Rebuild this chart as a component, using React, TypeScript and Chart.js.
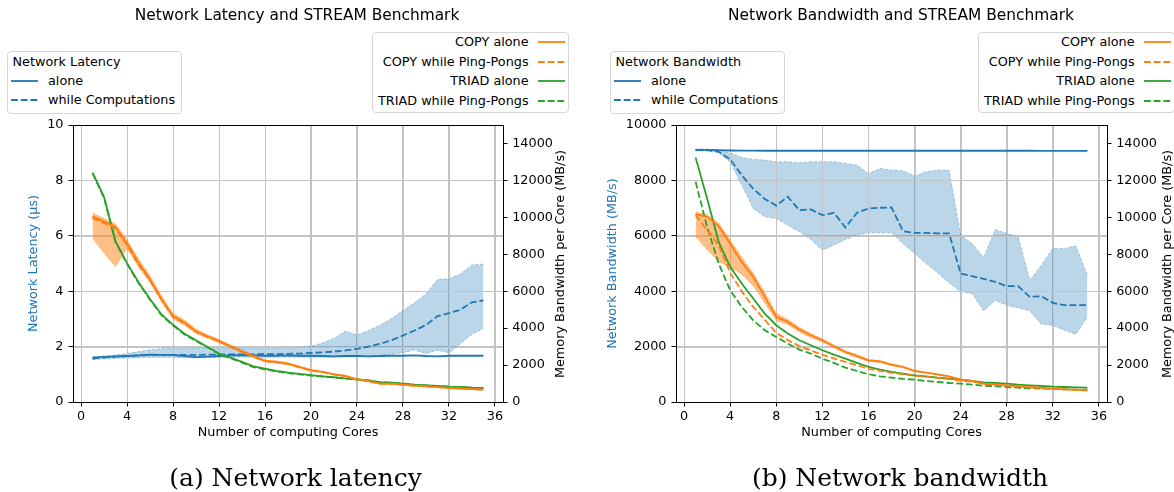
import React, { useEffect, useRef } from 'react';
import { Chart, registerables } from 'chart.js';

Chart.register(...registerables);

// ---------------- data ----------------
const cores = [1, 2, 3, 4, 5, 6, 7, 8, 9, 10, 11, 12, 13, 14, 15, 16, 17, 18, 19, 20, 21, 22, 23, 24, 25, 26, 27, 28, 29, 30, 31, 32, 33, 34, 35];
const xTicks = [0, 4, 8, 12, 16, 20, 24, 28, 32, 36];
const latencyTicks = [0, 2, 4, 6, 8, 10];
const bandwidthTicks = [0, 2000, 4000, 6000, 8000, 10000];
const memoryTicks = [0, 2000, 4000, 6000, 8000, 10000, 12000, 14000];

// (a) Network latency (µs)
const latencyAlone = [1.60, 1.63, 1.65, 1.66, 1.68, 1.71, 1.70, 1.69, 1.66, 1.62, 1.64, 1.66, 1.68, 1.69, 1.68, 1.67, 1.67, 1.68, 1.67, 1.67, 1.66, 1.65, 1.66, 1.66, 1.65, 1.66, 1.67, 1.67, 1.68, 1.66, 1.65, 1.67, 1.67, 1.67, 1.67];
const latencyWhile = [1.57, 1.61, 1.64, 1.66, 1.68, 1.70, 1.70, 1.70, 1.70, 1.70, 1.71, 1.71, 1.72, 1.72, 1.72, 1.73, 1.73, 1.74, 1.75, 1.77, 1.79, 1.82, 1.86, 1.92, 2.00, 2.10, 2.23, 2.40, 2.58, 2.78, 3.10, 3.21, 3.33, 3.60, 3.67];
const latencyMax = [1.63, 1.66, 1.70, 1.75, 1.82, 1.89, 1.92, 1.95, 1.95, 1.95, 1.95, 1.95, 1.95, 1.95, 1.95, 1.95, 1.95, 1.96, 1.98, 2.01, 2.13, 2.30, 2.56, 2.42, 2.58, 2.77, 3.01, 3.30, 3.58, 3.90, 4.42, 4.45, 4.62, 4.95, 4.98];
const latencyMin = [1.53, 1.55, 1.57, 1.59, 1.60, 1.61, 1.61, 1.61, 1.60, 1.59, 1.60, 1.61, 1.62, 1.62, 1.62, 1.62, 1.62, 1.62, 1.62, 1.62, 1.62, 1.62, 1.63, 1.64, 1.65, 1.68, 1.72, 1.78, 1.88, 1.74, 1.87, 1.78, 2.10, 2.45, 2.65];

// (a) STREAM memory bandwidth per core (MB/s)
const copyAloneA = [10050, 9780, 9480, 8600, 7550, 6650, 5580, 4650, 4300, 3830, 3560, 3310, 3020, 2750, 2480, 2230, 2170, 2080, 1900, 1720, 1630, 1500, 1410, 1220, 1140, 1000, 990, 940, 890, 850, 810, 760, 730, 700, 670];
const copyWhileA = [9950, 9700, 9400, 8500, 7450, 6600, 5550, 4600, 4250, 3800, 3530, 3280, 3000, 2730, 2460, 2210, 2150, 2060, 1880, 1700, 1620, 1490, 1400, 1210, 1130, 990, 980, 930, 880, 840, 800, 755, 725, 700, 665];
const copyMaxA = [10250, 9950, 9650, 8800, 7750, 6850, 5750, 4800, 4450, 3950, 3650, 3400, 3100, 2820, 2550, 2290, 2230, 2130, 1950, 1760, 1670, 1540, 1440, 1250, 1170, 1030, 1020, 970, 910, 870, 830, 780, 745, 720, 690];
const copyMinA = [8850, 8050, 7320, 8300, 7300, 6450, 5400, 4500, 4150, 3700, 3450, 3200, 2930, 2660, 2400, 2160, 2100, 2010, 1840, 1670, 1580, 1460, 1370, 1180, 1100, 960, 960, 910, 860, 820, 790, 740, 705, 680, 650];
const triadAloneA = [12420, 11110, 8700, 7520, 6480, 5580, 4740, 4180, 3700, 3340, 2980, 2620, 2400, 2170, 1930, 1810, 1680, 1590, 1520, 1450, 1390, 1340, 1280, 1230, 1175, 1070, 1050, 995, 940, 905, 870, 830, 815, 780, 760];
const triadWhileA = [12400, 11050, 8650, 7480, 6440, 5540, 4700, 4140, 3660, 3300, 2950, 2590, 2370, 2130, 1890, 1770, 1650, 1560, 1500, 1430, 1380, 1330, 1270, 1220, 1170, 1060, 1040, 990, 935, 900, 865, 825, 810, 775, 755];

// (b) Network bandwidth (MB/s)
const bandwidthAlone = [9100, 9100, 9090, 9080, 9075, 9075, 9070, 9070, 9070, 9070, 9070, 9070, 9070, 9070, 9070, 9070, 9070, 9070, 9070, 9075, 9070, 9070, 9070, 9070, 9070, 9070, 9070, 9070, 9070, 9070, 9065, 9065, 9065, 9065, 9065];
const bandwidthWhile = [9096, 9096, 9036, 8760, 8193, 7700, 7330, 7090, 7410, 6928, 6952, 6747, 6831, 6301, 6831, 6988, 7012, 7024, 6168, 6108, 6108, 6084, 6084, 4638, 4542, 4446, 4337, 4181, 4181, 3795, 3819, 3578, 3494, 3494, 3494];
const bandwidthMax = [9132, 9132, 9096, 9000, 8831, 8759, 8735, 8674, 8674, 8638, 8674, 8674, 8674, 8614, 8554, 8253, 8434, 8373, 8349, 8157, 8313, 8373, 8373, 6024, 5723, 5217, 6229, 6084, 5964, 4397, 4940, 5542, 5542, 5638, 4578];
const bandwidthMin = [9060, 9060, 9000, 8674, 7831, 6988, 6687, 6626, 6385, 6144, 5867, 5482, 5663, 5867, 6024, 6108, 6108, 6108, 5723, 5361, 5000, 4663, 4301, 3976, 3916, 3289, 3675, 3494, 3398, 3289, 2807, 2771, 2590, 2446, 3072];

// (b) STREAM memory bandwidth per core (MB/s)
const copyAloneB = [10173, 10029, 9523, 8583, 7589, 6776, 5692, 4608, 4337, 3921, 3614, 3343, 3018, 2711, 2494, 2259, 2205, 2024, 1897, 1680, 1590, 1500, 1391, 1211, 1138, 994, 958, 904, 867, 813, 777, 723, 687, 669, 632];
const copyWhileB = [10119, 9300, 8500, 7000, 6000, 5150, 4450, 3750, 3350, 3030, 2780, 2560, 2360, 2170, 1990, 1800, 1680, 1580, 1500, 1420, 1360, 1300, 1240, 1160, 1100, 990, 930, 880, 830, 790, 750, 715, 685, 660, 635];
const copyMaxB = [10300, 10150, 9700, 8800, 7850, 7000, 5950, 4800, 4480, 4050, 3720, 3430, 3100, 2790, 2560, 2310, 2250, 2070, 1940, 1720, 1620, 1530, 1420, 1240, 1160, 1010, 975, 920, 880, 825, 790, 735, 700, 680, 645];
const copyMinB = [8950, 8250, 7600, 7300, 6900, 6300, 5350, 4400, 4180, 3780, 3480, 3230, 2920, 2620, 2400, 2180, 2130, 1960, 1840, 1630, 1550, 1460, 1350, 1180, 1110, 970, 940, 885, 850, 795, 760, 705, 670, 655, 620];
const triadAloneB = [13245, 11023, 8674, 7318, 6415, 5602, 4789, 4156, 3704, 3343, 3072, 2801, 2566, 2349, 2114, 1897, 1753, 1626, 1536, 1446, 1391, 1319, 1265, 1211, 1138, 1066, 1030, 994, 940, 904, 867, 831, 813, 795, 777];
const triadWhileB = [11926, 9487, 7499, 6054, 5150, 4427, 3885, 3524, 3162, 2837, 2620, 2349, 2114, 1861, 1680, 1500, 1391, 1319, 1247, 1211, 1138, 1084, 1030, 994, 940, 885, 849, 813, 777, 741, 723, 705, 687, 669, 669];

// ---------------- styles ----------------
const BLUE = '#1f77b4';
const ORANGE = '#ff7f0e';
const GREEN = '#2ca02c';
const GRID = '#c4c4c4';
const FONT = "'DejaVu Sans', sans-serif";
const FS = 12.8;
const DASH = [6.8, 2.9];

const pts = (arr: number[]) => cores.map((c, i) => ({ x: c, y: arr[i] }));

function lineDs(label: string, arr: number[], color: string, dashed: boolean, yAxisID: string, order: number) {
  return {
    label, data: pts(arr), borderColor: color, backgroundColor: color, borderWidth: 1.8,
    borderDash: dashed ? DASH : [], pointRadius: 0, fill: false, tension: 0, yAxisID, order,
  };
}
function bandEdge(label: string, arr: number[], edge: string, yAxisID: string, order: number, fillColor?: string) {
  return {
    label, data: pts(arr), borderColor: edge, borderWidth: 1, borderDash: [3, 2], pointRadius: 0,
    fill: fillColor ? '-1' : false, backgroundColor: fillColor || 'rgba(0,0,0,0)', tension: 0, yAxisID, order,
  };
}

type Spec = {
  net: number[]; netWhile: number[]; netMin: number[]; netMax: number[];
  copy: number[]; copyWhile: number[]; copyMin: number[]; copyMax: number[];
  triad: number[]; triadWhile: number[];
  netMaxY: number; netTicks: number[]; netTitle: string;
  leftW: number; rightW: number; leftTitlePad: number;
};

function makeConfig(s: Spec): any {
  const tickFont = { family: FONT, size: FS };
  const gridOverBand = {
    id: 'gridOverBand',
    afterDatasetDraw(chart: any, args: any) {
      if (args.index !== 0) return;
      const { ctx, chartArea: a, scales } = chart;
      ctx.save();
      ctx.beginPath();
      ctx.rect(a.left, a.top, a.right - a.left, a.bottom - a.top);
      ctx.clip();
      ctx.strokeStyle = GRID;
      ctx.lineWidth = 1;
      ctx.beginPath();
      for (const v of xTicks) {
        const px = Math.round(scales.x.getPixelForValue(v)) + 0.5;
        ctx.moveTo(px, a.top); ctx.lineTo(px, a.bottom);
      }
      for (const v of s.netTicks) {
        const py = Math.round(scales.y.getPixelForValue(v)) + 0.5;
        ctx.moveTo(a.left, py); ctx.lineTo(a.right, py);
      }
      ctx.stroke();
      ctx.restore();
    },
  };
  const spines = {
    id: 'spines',
    afterDatasetsDraw(chart: any) {
      const { ctx, chartArea: a } = chart;
      ctx.save();
      ctx.strokeStyle = '#000';
      ctx.lineWidth = 1;
      ctx.strokeRect(Math.round(a.left) + 0.5, Math.round(a.top) + 0.5, Math.round(a.right - a.left), Math.round(a.bottom - a.top));
      ctx.restore();
    },
  };
  return {
    type: 'line',
    data: {
      datasets: [
        bandEdge('net min', s.netMin, 'rgba(31,119,180,0.35)', 'y', 3),
        bandEdge('net max', s.netMax, 'rgba(31,119,180,0.35)', 'y', 3, 'rgba(31,119,180,0.3)'),
        lineDs('alone', s.net, BLUE, false, 'y', 2),
        lineDs('while Computations', s.netWhile, BLUE, true, 'y', 2),
        bandEdge('copy min', s.copyMin, 'rgba(255,127,14,0.3)', 'y1', 1),
        bandEdge('copy max', s.copyMax, 'rgba(255,127,14,0.3)', 'y1', 1, 'rgba(255,127,14,0.5)'),
        lineDs('COPY alone', s.copy, ORANGE, false, 'y1', 0),
        lineDs('COPY while Ping-Pongs', s.copyWhile, ORANGE, true, 'y1', 0),
        lineDs('TRIAD alone', s.triad, GREEN, false, 'y1', 0),
        lineDs('TRIAD while Ping-Pongs', s.triadWhile, GREEN, true, 'y1', 0),
      ],
    },
    options: {
      responsive: false,
      animation: false,
      events: [],
      layout: { padding: { top: 125, bottom: 40, left: 0, right: 0 }, autoPadding: false },
      plugins: {
        legend: { display: false },
        tooltip: { enabled: false },
        title: { display: false },
        filler: { drawTime: 'beforeDatasetDraw' },
      },
      scales: {
        x: {
          type: 'linear', min: -0.7, max: 36.7,
          afterBuildTicks: (sc: any) => { sc.ticks = xTicks.map((v) => ({ value: v })); },
          afterFit: (sc: any) => { sc.height = 50; },
          ticks: { callback: (v: any) => String(v), font: tickFont, color: '#000', padding: 2.2, maxRotation: 0, autoSkip: false },
          grid: { color: GRID, lineWidth: 1, tickColor: '#000', tickLength: 4.5, tickWidth: 1 },
          border: { display: false },
          title: { display: true, text: 'Number of computing Cores', font: tickFont, color: '#000', padding: { top: 0, bottom: 11.3 } },
        },
        y: {
          type: 'linear', position: 'left', min: 0, max: s.netMaxY,
          afterBuildTicks: (sc: any) => { sc.ticks = s.netTicks.map((v) => ({ value: v })); },
          afterFit: (sc: any) => { sc.width = s.leftW; },
          ticks: { callback: (v: any) => String(v), font: tickFont, color: '#000', padding: 5, autoSkip: false },
          grid: { color: GRID, lineWidth: 1, tickColor: '#000', tickLength: 4.5, tickWidth: 1 },
          border: { display: false },
          title: { display: true, text: s.netTitle, font: tickFont, color: BLUE, padding: { top: s.leftTitlePad, bottom: 0 } },
        },
        y1: {
          type: 'linear', position: 'right', min: 0, max: 15000,
          afterBuildTicks: (sc: any) => { sc.ticks = memoryTicks.map((v) => ({ value: v })); },
          afterFit: (sc: any) => { sc.width = s.rightW; },
          ticks: { callback: (v: any) => String(v), font: tickFont, color: '#000', padding: 4.7, autoSkip: false },
          grid: { drawOnChartArea: false, color: GRID, tickColor: '#000', tickLength: 4.5, tickWidth: 1 },
          border: { display: false },
          title: { display: false },
        },
      },
    },
    plugins: [gridOverBand, spines],
  };
}

const specA = (): Spec => ({
  net: latencyAlone, netWhile: latencyWhile, netMin: latencyMin, netMax: latencyMax,
  copy: copyAloneA, copyWhile: copyWhileA, copyMin: copyMinA, copyMax: copyMaxA,
  triad: triadAloneA, triadWhile: triadWhileA,
  netMaxY: 10, netTicks: latencyTicks, netTitle: 'Network Latency (µs)',
  leftW: 73, rightW: 84, leftTitlePad: 26.3,
});
const specB = (): Spec => ({
  net: bandwidthAlone, netWhile: bandwidthWhile, netMin: bandwidthMin, netMax: bandwidthMax,
  copy: copyAloneB, copyWhile: copyWhileB, copyMin: copyMinB, copyMax: copyMaxB,
  triad: triadAloneB, triadWhile: triadWhileB,
  netMaxY: 10000, netTicks: bandwidthTicks, netTitle: 'Network Bandwidth (MB/s)',
  leftW: 89, rightW: 67, leftTitlePad: 18.0,
});

function ChartPanel({ left, spec }: { left: number; spec: () => Spec }) {
  const ref = useRef<HTMLCanvasElement>(null);
  useEffect(() => {
    const chart = new Chart(ref.current as HTMLCanvasElement, makeConfig(spec()));
    return () => chart.destroy();
  }, []);
  return <canvas ref={ref} width={587} height={492} style={{ position: 'absolute', left, top: 0, width: 587, height: 492 }} />;
}

const txt: React.CSSProperties = { position: 'absolute', fontFamily: FONT, fontSize: FS, color: '#000', whiteSpace: 'nowrap', lineHeight: '16px' };

function Handle({ left, top, color, dashed }: { left: number; top: number; color: string; dashed: boolean }) {
  return (
    <svg style={{ position: 'absolute', left, top }} width={27} height={4}>
      <line x1={0} y1={2} x2={27} y2={2} stroke={color} strokeWidth={1.8} strokeDasharray={dashed ? '6.8 2.9' : undefined} />
    </svg>
  );
}

function NetLegend({ left, title }: { left: number; title: string }) {
  return (
    <div style={{ position: 'absolute', left, top: 51, width: 175, height: 63, boxSizing: 'border-box', border: '1px solid #d6d6d6', borderRadius: 4, background: '#fff' }}>
      <div style={{ ...txt, left: 4.5, top: 1.7 }}>{title}</div>
      <Handle left={2.7} top={26.7} color={BLUE} dashed={false} />
      <div style={{ ...txt, left: 40, top: 20.7 }}>alone</div>
      <Handle left={2.7} top={46} color={BLUE} dashed={true} />
      <div style={{ ...txt, left: 40, top: 40 }}>while Computations</div>
    </div>
  );
}

const memRows = [
  { label: 'COPY alone', color: ORANGE, dashed: false },
  { label: 'COPY while Ping-Pongs', color: ORANGE, dashed: true },
  { label: 'TRIAD alone', color: GREEN, dashed: false },
  { label: 'TRIAD while Ping-Pongs', color: GREEN, dashed: true },
];
const memRowY = [9.3, 28.7, 48, 67.7];

function MemLegend({ left }: { left: number }) {
  return (
    <div style={{ position: 'absolute', left, top: 32, width: 197, height: 81, boxSizing: 'border-box', border: '1px solid #d6d6d6', borderRadius: 4, background: '#fff' }}>
      {memRows.map((r, i) => (
        <React.Fragment key={r.label}>
          <div style={{ ...txt, right: 39.4, top: memRowY[i] - 8, textAlign: 'right' }}>{r.label}</div>
          <Handle left={165.3} top={memRowY[i] - 2} color={r.color} dashed={r.dashed} />
        </React.Fragment>
      ))}
    </div>
  );
}

function Centered({ cx, top, style, children }: { cx: number; top: number; style: React.CSSProperties; children: React.ReactNode }) {
  return <div style={{ position: 'absolute', left: cx - 250, width: 500, top, textAlign: 'center', whiteSpace: 'nowrap', ...style }}>{children}</div>;
}

function RightAxisTitle({ cx }: { cx: number }) {
  return (
    <div style={{ ...txt, left: cx - 150, top: 263.5 - 8, width: 300, textAlign: 'center', transform: 'rotate(-90deg)' }}>
      Memory Bandwidth per Core (MB/s)
    </div>
  );
}

export default function App() {
  const titleStyle: React.CSSProperties = { fontFamily: FONT, fontSize: 15.4, lineHeight: '18px', color: '#000' };
  const capStyle: React.CSSProperties = { fontFamily: "'DejaVu Serif', serif", fontSize: 25, lineHeight: '30px', color: '#000' };
  return (
    <div style={{ position: 'absolute', left: 0, top: 0, width: 1174, height: 492, overflow: 'hidden', background: '#fff' }}>
      <ChartPanel left={0} spec={specA} />
      <ChartPanel left={587} spec={specB} />
      <Centered cx={297} top={6} style={titleStyle}>Network Latency and STREAM Benchmark</Centered>
      <Centered cx={901} top={6} style={titleStyle}>Network Bandwidth and STREAM Benchmark</Centered>
      <NetLegend left={7} title="Network Latency" />
      <NetLegend left={610} title="Network Bandwidth" />
      <MemLegend left={372} />
      <MemLegend left={978} />
      <RightAxisTitle cx={560} />
      <RightAxisTitle cx={1167} />
      <Centered cx={295.5} top={463} style={capStyle}>(a) Network latency</Centered>
      <Centered cx={900} top={463} style={capStyle}>(b) Network bandwidth</Centered>
    </div>
  );
}
